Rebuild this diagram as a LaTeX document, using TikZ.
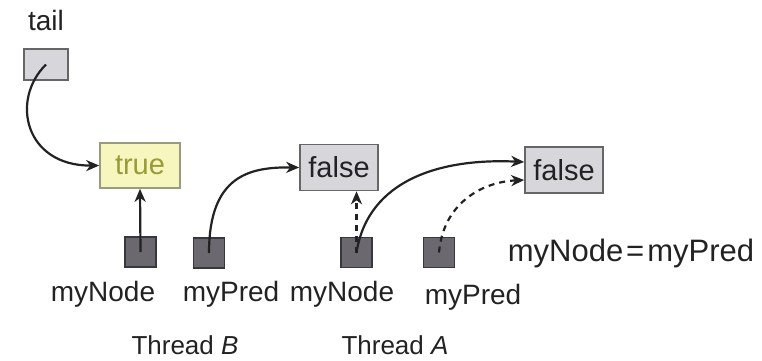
\documentclass[tikz,border=0pt]{standalone}
\usepackage{fontspec}
\setmainfont{Liberation Sans}
\usetikzlibrary{arrows.meta}
\definecolor{bigfill}{HTML}{D6D6DB}
\definecolor{bigdraw}{HTML}{666666}
\definecolor{smallfill}{HTML}{6C6870}
\definecolor{smalldraw}{HTML}{38383C}
\definecolor{yfill}{HTML}{F6F6BE}
\definecolor{ydraw}{HTML}{9A9A80}
\definecolor{ytext}{HTML}{9A9A38}
\definecolor{ink}{HTML}{222222}
\begin{document}
\begin{tikzpicture}[x=1pt,y=-1pt,
  txt/.style={font=\fontsize{28}{30}\selectfont, text=ink, inner sep=0pt},
  bigbox/.style={draw=bigdraw, line width=1.6pt, fill=bigfill, minimum width=78pt, minimum height=46pt, inner sep=0pt, font=\fontsize{29}{30}\selectfont, text=ink},
  ptrbox/.style={draw=smalldraw, line width=1.4pt, fill=smallfill, minimum width=31pt, minimum height=30pt, inner sep=0pt},
  arr/.style={-{Stealth[length=13pt,width=11pt,inset=4pt]}, line width=2.2pt, draw=ink},
  darr/.style={arr, dash pattern=on 6pt off 5pt}]
\useasboundingbox (0,0) rectangle (762,360);
% texts
\node[txt] (tailtxt) at (46,20) {tail};
\node[draw=bigdraw, line width=1.4pt, fill=bigfill, minimum width=44pt, minimum height=31pt, inner sep=0pt] (tail) at (46,64.5) {};
\node[draw=ydraw, line width=1.6pt, fill=yfill, minimum width=80pt, minimum height=45pt, inner sep=0pt, font=\fontsize{29}{30}\selectfont, text=ytext] (true) at (140,165.5) {true};
\node[bigbox] (f1) at (339,167.5) {false};
\node[bigbox] (f2) at (564,170) {false};
% pointer boxes
\node[ptrbox] (bn) at (140.5,252) {};
\node[ptrbox] (bp) at (209,253) {};
\node[ptrbox] (an) at (356.5,252.5) {};
\node[ptrbox] (ap) at (439,252.5) {};
% labels
\node[txt] (bnl) at (103,294) {myNode};
\node[txt] (bpl) at (231,294) {myPred};
\node[txt] (anl) at (342,294) {myNode};
\node[txt] (apl) at (473,297) {myPred};
\node[txt, font=\fontsize{31}{33}\selectfont] (eq) at (631,253) {myNode\kern3pt=\kern3pt myPred};
\node[txt, font=\fontsize{26}{28}\selectfont] (thb) at (185,345) {Thread \textit{B}};
\node[txt, font=\fontsize{26}{28}\selectfont] (tha) at (395,345) {Thread \textit{A}};
% connectors
\draw[arr] (tail.center) .. controls (10,100) and (25,166) .. (true.west);
\draw[arr] (bn.center) -- (true.south);
\draw[arr] (bp.center) .. controls (209,175) and (250,167) .. (f1.west);
\draw[darr] (an.center) -- (an.center |- f1.south);
\draw[arr] (an.center) .. controls (368,180) and (440,158) .. ([yshift=8pt]f2.west);
\draw[darr] (ap.center) .. controls (443,205) and (480,182) .. ([yshift=-10pt]f2.west);
\end{tikzpicture}
\end{document}
